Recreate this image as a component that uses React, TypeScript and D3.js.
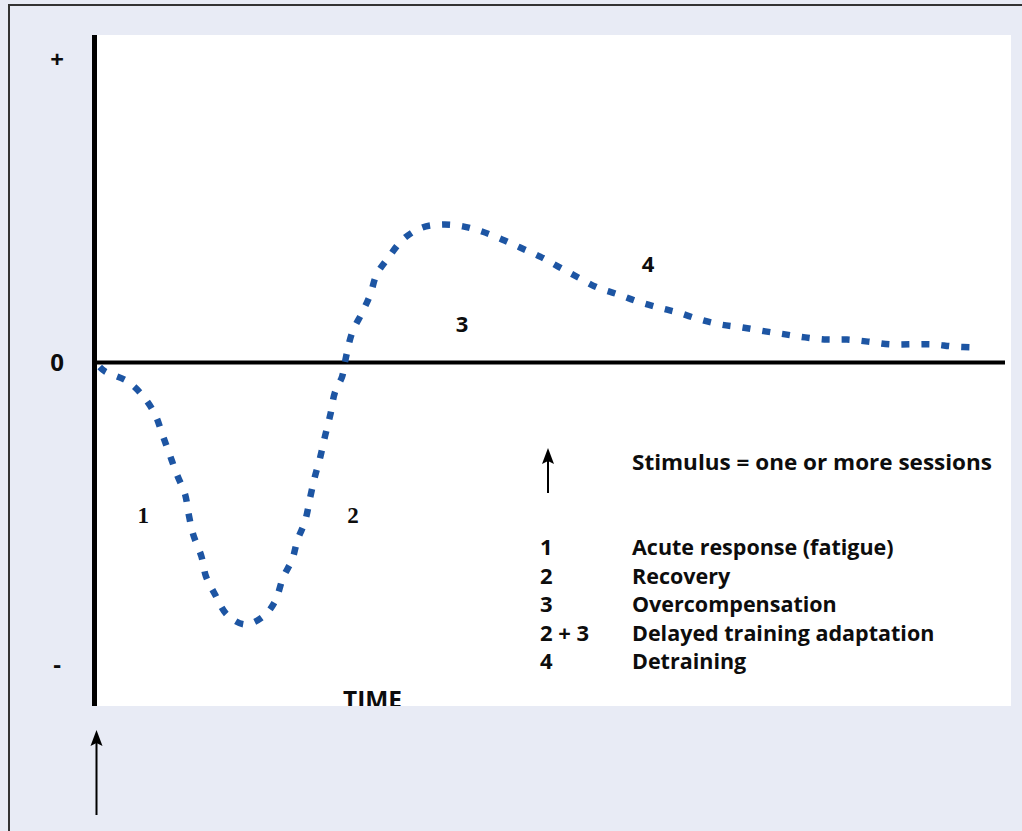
import React from 'react';
import * as d3 from 'd3';

// time (0-100) and response (-100..100)
const timeValues = [0.3, 0.9, 3.4, 5.1, 6.4, 7.2, 8.0, 8.8, 9.7, 10.1, 10.6, 11.5, 12.0, 13.0, 14.3, 16.3, 18.3, 19.6, 20.5, 21.5, 22.1, 22.9, 23.5, 24.0, 24.6, 25.1, 25.7, 26.2, 27.0, 27.3, 28.1, 29.2, 30.1, 30.8, 32.1, 33.7, 35.8, 38.1, 40.3, 42.4, 44.6, 46.6, 48.8, 50.8, 53.0, 55.1, 57.4, 59.5, 61.8, 64.0, 66.4, 68.6, 71.0, 73.6, 75.8, 78.0, 80.4, 82.6, 84.9, 87.3, 89.8, 92.1, 94.3, 96.9];
const responseValues = [-1.5, -3.0, -6.3, -11.2, -17.2, -23.8, -30.4, -37.0, -43.6, -50.2, -56.9, -64.1, -70.7, -76.7, -83.3, -86.6, -84.0, -79.0, -71.1, -65.1, -58.5, -52.6, -44.3, -37.7, -31.1, -24.5, -17.2, -9.9, -4.6, 0, 9.9, 16.5, 22.5, 29.1, 34.7, 40.7, 44.6, 45.6, 45.0, 43.3, 40.7, 38.0, 35.0, 31.7, 28.1, 24.8, 22.5, 20.2, 18.2, 16.5, 14.2, 12.6, 11.6, 10.3, 9.3, 8.3, 7.6, 7.6, 6.9, 6.0, 6.0, 6.0, 5.3, 5.0];

const yTickValues = [100, 0, -100];
const yTickLabels = ['+', '0', '-'];

const phaseLabels = ['1', '2', '3', '4'];
const phaseTimes = [5.1, 28.2, 40.2, 60.7];
const phaseResponses = [-50.5, -50.5, 12.5, 32.5];

const legendKeys = ['1', '2', '3', '2 + 3', '4'];
const legendLabels = ['Acute response (fatigue)', 'Recovery', 'Overcompensation', 'Delayed training adaptation', 'Detraining'];

const W = 1022;
const H = 831;
const BG = '#e8ebf5';
const BLUE = '#1d55a3';
const SANS = '"Open Sans", Lato, sans-serif';
const INK = '#0d0d0d';

const x = d3.scaleLinear().domain([0, 100]).range([97, 1005]);
const y = d3.scaleLinear().domain([-100, 100]).range([665, 60]);

const arrowHead = (cx: number, tip: number) =>
  `M${cx},${tip} L${cx + 6},${tip + 16} L${cx},${tip + 13} L${cx - 6},${tip + 16} Z`;

const App: React.FC = () => {
  const line = d3.line<number>()
    .x((_, i) => x(timeValues[i]))
    .y(d => y(d))
    .curve(d3.curveCatmullRom.alpha(0.5));

  const plotTop = 35;
  const plotBottom = 706;
  const y0 = y(0);

  return (
    <svg width={W} height={H} style={{ position: 'absolute', left: 0, top: 0 }}>
      <rect x={0} y={0} width={W} height={H} fill={BG} />
      <path d={`M${W},5 H9 V${H}`} fill="none" stroke="#333" strokeWidth={2} />
      <rect x={97} y={plotTop} width={1011 - 97} height={plotBottom - plotTop} fill="#fff" />

      {/* TIME label, bottom clipped by the frame like the original */}
      <text x={343} y={708} fontFamily={SANS} fontWeight={700} fontSize={23} fill={INK}
        textLength={59} lengthAdjust="spacingAndGlyphs">TIME</text>
      <rect x={97} y={plotBottom} width={400} height={10} fill={BG} />

      {/* axes */}
      <line x1={94.5} x2={94.5} y1={plotTop} y2={plotBottom} stroke="#000" strokeWidth={5} />
      <line x1={95} x2={x(100)} y1={y0} y2={y0} stroke="#000" strokeWidth={4} />
      {yTickValues.map((v, i) => (
        <text key={i} x={57} y={y(v)} dy="0.35em" textAnchor="middle"
          fontFamily={SANS} fontWeight={700} fontSize={24} fill={INK}>{yTickLabels[i]}</text>
      ))}

      {/* response curve */}
      <path d={line(responseValues) || ''} fill="none" stroke={BLUE} strokeWidth={6.5}
        strokeDasharray="8 12" />

      {phaseLabels.map((p, i) => (
        <text key={p} x={x(phaseTimes[i])} y={y(phaseResponses[i])} dy="0.35em" textAnchor="middle"
          fontFamily={i < 2 ? '"Liberation Serif", serif' : SANS} fontWeight={700} fontSize={i < 2 ? 23 : 22}
          fill={INK}>{p}</text>
      ))}

      {/* stimulus arrows */}
      <line x1={96.5} x2={96.5} y1={815} y2={740} stroke="#000" strokeWidth={2} />
      <path d={arrowHead(96.5, 730)} fill="#000" />
      <line x1={548} x2={548} y1={493} y2={458} stroke="#000" strokeWidth={2} />
      <path d={arrowHead(548, 448)} fill="#000" />

      {/* legend */}
      <text x={632} y={470} fontFamily={SANS} fontWeight={700} fontSize={21.5} fill={INK}
        textLength={360} lengthAdjust="spacingAndGlyphs">
        Stimulus = one or more sessions
      </text>
      {legendKeys.map((k, i) => (
        <g key={k} transform={`translate(0,${555 + i * 28.5})`}>
          <text x={540} y={0} fontFamily={SANS} fontWeight={700} fontSize={22} fill={INK}
            style={{ whiteSpace: 'pre' }}>{k}</text>
          <text x={632} y={0} fontFamily={SANS} fontWeight={700} fontSize={21.5} fill={INK}>{legendLabels[i]}</text>
        </g>
      ))}
    </svg>
  );
};

export default App;
